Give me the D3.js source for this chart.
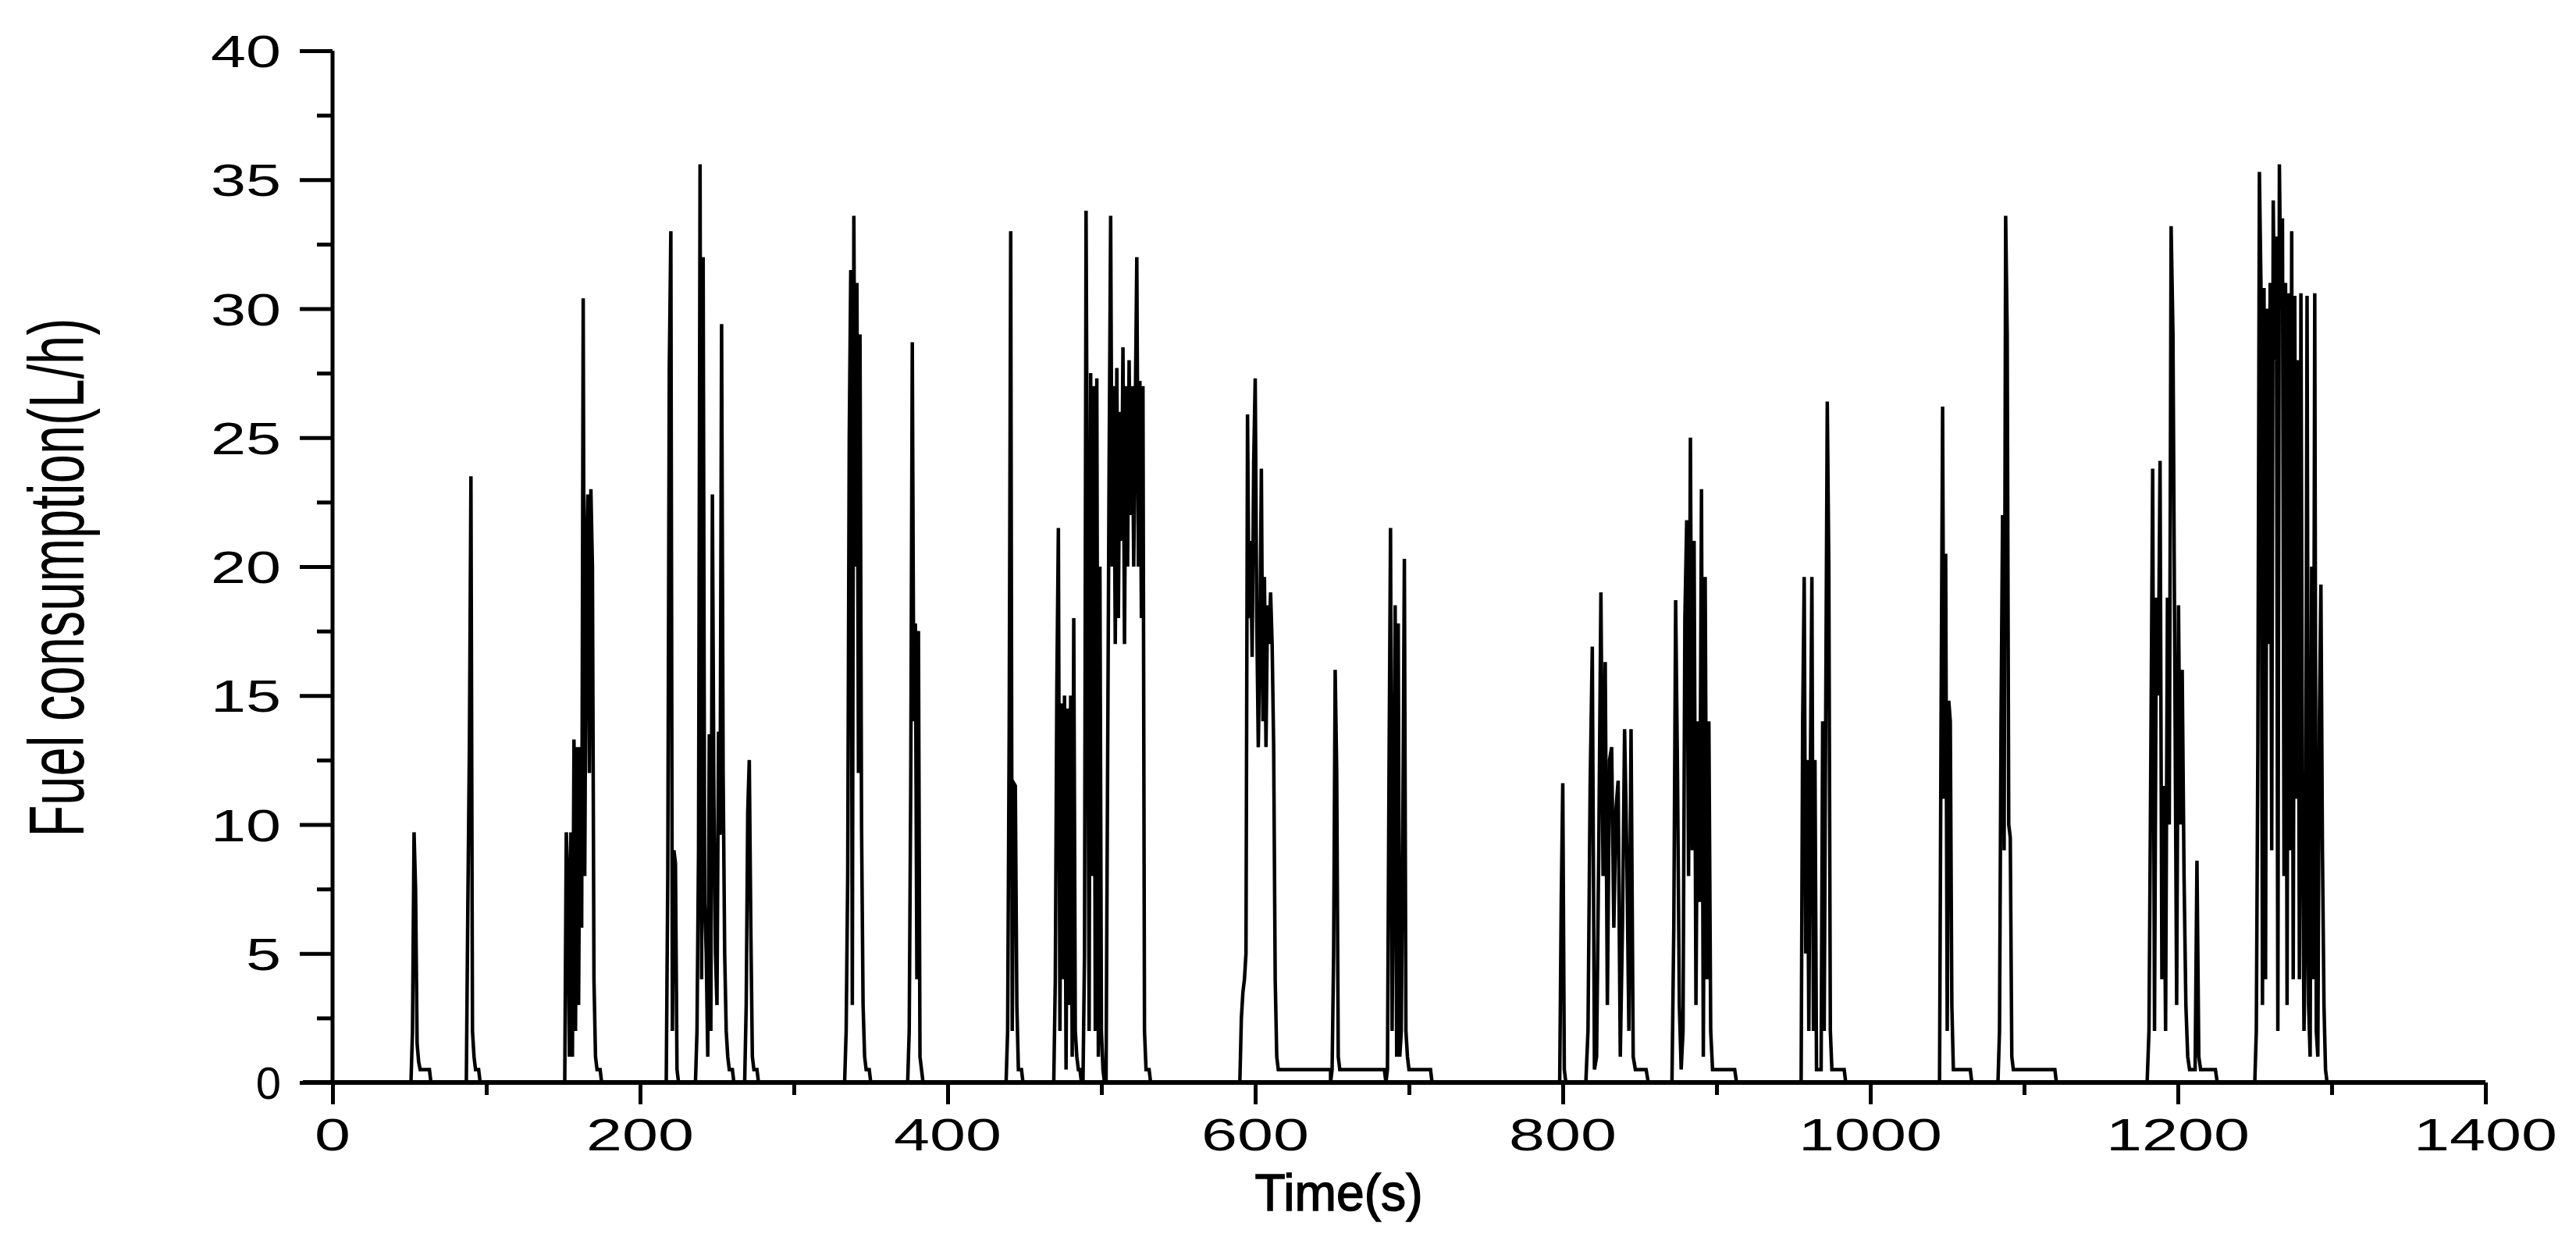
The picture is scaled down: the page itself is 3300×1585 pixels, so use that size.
<!DOCTYPE html>
<html><head><meta charset="utf-8">
<script src="https://cdn.jsdelivr.net/npm/d3@7"></script>
<style>body{margin:0;background:#fff}</style></head>
<body><svg id="c" width="3300" height="1585"></svg>
<script>
const xTicks=[0,200,400,600,800,1000,1200,1400];
const yTicks=[0,5,10,15,20,25,30,35,40];
const burstStarts=[51,87,151,217,236,268,333,374,438,469,488,503,590,650,686,798,815,871,955,1045,1083,1180,1250];
const burstSteps=[1,1,1,1,1,1,1,1,1,1,1,1,1,1,1,1,1.4,1.2,1,1,1,1.2,1];
const burstValues=[
 [0,2,9.7,7.5,1.5,0.8,0.5,0.5,0.5,0.5,0.5,0.5,0.5,0],
 [0,7,13,23.5,2,1,0.5,0.5,0.5,0],
 [0,9.7,8,1,9.7,1,13.3,2,13,3,13,6,30.4,8,20,22.8,12,23,20,4,1,0.5,0.5,0.5,0],
 [0,8,27.8,33,2,9,8.5,0.5,0],
 [0,2,9,35.6,4,32,7,5,1,13.5,2,22.8,11,5,3,13.6,9.6,29.4,12,5,2,1,0.5,0.5,0.5,0],
 [0,3,10.5,12.5,6,1,0.5,0.5,0.5,0],
 [0,2,8,25,31.5,3,33.6,20,31,12,29,10,3,1,0.5,0.5,0.5,0],
 [0,2,11.6,28.7,14,17.8,4,17.5,1,0.5,0],
 [0,2,13.5,33,2,11.6,11.5,3,0.5,0.5,0.5,0],
 [0,4,15.3,21.5,2,14.7,4,15,0.5,14.5,3,15,1,18,2,1,0.5,0.5,0],
 [0,5,33.8,19,2,27.5,8,27,2,27.3,1,20,2,0.5,0],
 [0,12,24,33.6,20,27,17,27.7,18,26,21,28.5,17,27,20,28,22,27,20,26,32,20,27.2,18,27,2,0.5,0.5,0.5,0],
 [0,2.5,3.5,4,5,25.9,18,21,16.5,24,27.3,18,13,17,23.8,14,19.6,13,18.5,17,19,17,13,4,1,0.5,0.5,0.5,0.5,0.5,0.5,0.5,0.5,0.5,0.5,0.5,0.5,0.5,0.5,0.5,0.5,0.5,0.5,0.5,0.5,0.5,0.5,0.5,0.5,0.5,0.5,0.5,0.5,0.5,0.5,0.5,0.5,0.5,0.5,0.5],
 [0.5,5,16,12,1,0.5,0.5,0.5,0.5,0.5,0.5,0.5,0.5,0.5,0.5,0.5,0.5,0.5,0.5,0.5,0.5,0.5,0.5,0.5,0.5,0.5,0.5,0.5,0.5,0.5,0.5,0.5,0.5,0.5,0.5],
 [0.5,12,21.5,2,9,18.5,1,17.8,1,2,10,20.3,2,1,0.5,0.5,0.5,0.5,0.5,0.5,0.5,0.5,0.5,0.5,0.5,0.5,0.5,0.5,0.5,0],
 [0,7,11.6,0.5,0],
 [0,2,11.5,16.9,0.5,1,9,19,8,16.3,3,12.5,13,6,10.6,11.7,1,6,13.7,9,2,13.7,1,0.5,0.5,0.5,0.5,0.5,0.5,0],
 [0,6,18.7,12,3,0.5,2,18,21.8,8,25,9,21,3,14,7,23,1,19.6,4,14,2,0.5,0.5,0.5,0.5,0.5,0.5,0.5,0.5,0.5,0.5,0.5,0.5,0.5,0],
 [0,14,19.6,5,12.5,2,12,19.6,2,12.5,0.5,0.5,0.5,0.5,14,2,14.5,26.4,20,2,0.5,0.5,0.5,0.5,0.5,0.5,0.5,0.5,0.5,0],
 [0,14,26.2,11,20.5,2,14.8,14,3,0.5,0.5,0.5,0.5,0.5,0.5,0.5,0.5,0.5,0.5,0.5,0.5,0],
 [0,2,14,22,9,33.6,29,10,9.5,1,0.5,0.5,0.5,0.5,0.5,0.5,0.5,0.5,0.5,0.5,0.5,0.5,0.5,0.5,0.5,0.5,0.5,0.5,0.5,0.5,0.5,0.5,0.5,0.5,0.5,0.5,0.5,0.5,0],
 [0,2,12.6,23.8,2,18.8,15,24.1,4,11.5,2,18.8,10,33.2,29,16,3,18.5,10,16,8,3,1,0.5,0.5,0.5,0.5,8.6,1,0.5,0.5,0.5,0.5,0.5,0.5,0.5,0.5,0.5,0],
 [0,2,13,35.3,31,3,30.8,4,30,17,31,9,34.2,28,32.8,2,35.6,30,33.5,8,31,3,30.6,9,33,4,30.5,11,28,4,30.6,11,2,6,30.5,3,1,20,4,30.6,2,1,14,19.3,9,3,0.5,0]
];
const points=[[0,0]];
burstStarts.forEach((s,i)=>{points.push([s-1,0]);burstValues[i].forEach((v,j)=>points.push([s+j*burstSteps[i],v]));});
points.push([1300,0]);
const clean=points.filter((p,i)=>i===0||p[0]>=points[i-1][0]);

const svg=d3.select("#c");
const x=d3.scaleLinear().domain([0,1400]).range([426,3184]);
const y=d3.scaleLinear().domain([0,40]).range([1387,65]);
const F="Liberation Sans, Arial, sans-serif";

svg.append("path").datum(clean).attr("fill","none").attr("stroke","#000").attr("stroke-width",4.5)
 .attr("stroke-linejoin","miter").attr("d",d3.line().x(d=>x(d[0])).y(d=>y(d[1])));

const ya=svg.append("g").attr("transform","translate(426,0)")
 .call(d3.axisLeft(y).tickValues(d3.range(0,40.1,2.5)).tickSize(0).tickFormat(""));
ya.select(".domain").remove();
ya.append("line").attr("x1",0).attr("x2",0).attr("y1",y(40)).attr("y2",y(0)).attr("stroke","#000").attr("stroke-width",5);
ya.selectAll(".tick line").attr("x2",d=>d%5===0?-42:-20).attr("stroke","#000").attr("stroke-width",5);
yTicks.forEach(v=>{const t=svg.append("text").attr("x",360).attr("y",y(v)+21).attr("text-anchor","end").attr("font-family",F).attr("font-size",58).text(v);
 if(v>0) t.attr("textLength",v<10?45:90).attr("lengthAdjust","spacingAndGlyphs");});

const xa=svg.append("g").attr("transform","translate(0,1387)")
 .call(d3.axisBottom(x).tickValues(d3.range(0,1401,100)).tickSize(0).tickFormat(""));
xa.select(".domain").remove();
xa.append("line").attr("x1",388).attr("x2",x(1400)).attr("y1",0).attr("y2",0).attr("stroke","#000").attr("stroke-width",6);
xa.selectAll(".tick line").attr("y2",d=>d%200===0?28:16).attr("stroke","#000").attr("stroke-width",5);
xTicks.forEach(v=>{const s=String(v);
 svg.append("text").attr("x",x(v)).attr("y",1474).attr("text-anchor","middle").attr("font-family",F).attr("font-size",58)
 .attr("textLength",s.length*46).attr("lengthAdjust","spacingAndGlyphs").text(s);});

svg.append("text").attr("x",1715).attr("y",1551).attr("text-anchor","middle").attr("font-family",F).attr("font-size",66)
 .attr("stroke","#000").attr("stroke-width",1.5).attr("textLength",215).attr("lengthAdjust","spacingAndGlyphs").text("Time(s)");
svg.append("text").attr("transform","translate(107,740) rotate(-90)").attr("text-anchor","middle").attr("font-family",F)
 .attr("font-size",100).attr("textLength",665).attr("lengthAdjust","spacingAndGlyphs").text("Fuel consumption(L/h)");
</script></body></html>
